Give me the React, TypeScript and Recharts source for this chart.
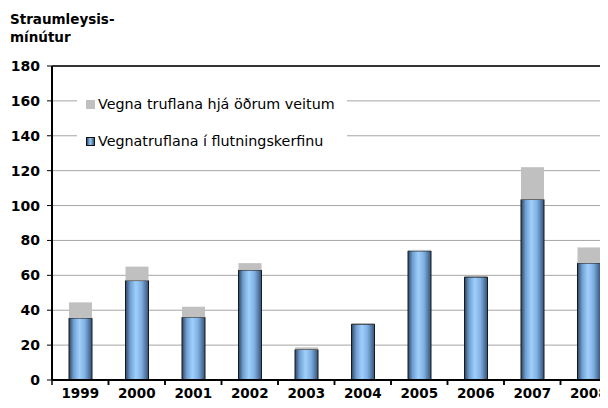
import React from 'react';
import { BarChart, Bar, XAxis, YAxis, CartesianGrid, ReferenceLine } from 'recharts';

const years = ['1999', '2000', '2001', '2002', '2003', '2004', '2005', '2006', '2007', '2008'];
const networkMinutes = [35.5, 57, 36, 63, 17.5, 32, 74, 59, 103.5, 67];
const otherMinutes = [9, 8, 6, 4, 1.2, 0, 0.6, 0, 18.5, 9];
const yTicks = [0, 20, 40, 60, 80, 100, 120, 140, 160, 180];

const otherLabel = 'Vegna truflana hjá öðrum veitum';
const networkLabel = 'Vegnatruflana í flutningskerfinu';

const data = years.map((year, i) => ({
  year,
  network: networkMinutes[i],
  other: otherMinutes[i],
}));

const font = '"DejaVu Sans", Verdana, sans-serif';

const YearTick = (props: any) => {
  const { x, y, payload } = props;
  const half = payload && payload.offset ? payload.offset : 0;
  return (
    <g>
      <line x1={x - half} x2={x - half} y1={y - 8} y2={y - 3} stroke="#000" strokeWidth={1.5} />
      <line x1={x + half} x2={x + half} y1={y - 8} y2={y - 3} stroke="#000" strokeWidth={1.5} />
      <text x={x} y={y + 10} textAnchor="middle" fontFamily={font} fontWeight="bold" fontSize={13.5} fill="#000">
        {payload.value}
      </text>
    </g>
  );
};

// legend sits on top of the grid, white box hides the lines behind it
const LegendBox = () => (
  <div style={{ position: 'absolute', left: 69, top: 80, background: '#fff', width: 270, height: 70, fontFamily: font, fontSize: 14.3, color: '#000', zIndex: 2 }}>
    <div style={{ display: 'flex', alignItems: 'center', paddingLeft: 9, paddingTop: 8 }}>
      <span style={{ width: 9, height: 9, background: '#c0c0c0', marginRight: 3 }} />
      {otherLabel}
    </div>
    <div style={{ display: 'flex', alignItems: 'center', paddingLeft: 9, paddingTop: 21 }}>
      <span style={{ width: 7, height: 7, background: 'linear-gradient(90deg,#2e4a6b,#9ccdfa 45%,#3a5a7e)', border: '1px solid #111', marginRight: 3 }} />
      {networkLabel}
    </div>
  </div>
);

export default function App() {
  return (
    <div style={{ position: 'relative', width: 600, height: 400, overflow: 'hidden' }}>
      <div style={{ position: 'absolute', left: 2, top: 2, fontFamily: font, fontWeight: 'bold', fontSize: 13.5, lineHeight: '18px', color: '#000', zIndex: 2 }}>
        Straumleysis-<br />mínútur
      </div>
      <LegendBox />
      <BarChart width={620} height={400} data={data} margin={{ top: 58, right: 11, left: 0, bottom: 0 }} barSize={23}>
        <defs>
          <linearGradient id="blueBar" x1="0" y1="0" x2="1" y2="0">
            <stop offset="0" stopColor="#2b4563" />
            <stop offset="0.2" stopColor="#6f9fd0" />
            <stop offset="0.45" stopColor="#9fd0fc" />
            <stop offset="0.7" stopColor="#7fafe0" />
            <stop offset="1" stopColor="#34527a" />
          </linearGradient>
        </defs>
        <CartesianGrid vertical={false} stroke="#a6a6a6" strokeWidth={1} />
        <XAxis
          dataKey="year"
          height={28}
          tickLine={false}
          axisLine={{ stroke: '#000', strokeWidth: 2 }}
          tick={<YearTick />}
          tickSize={0}
          tickMargin={8}
          interval={0}
        />
        <YAxis
          width={44}
          domain={[0, 180]}
          ticks={yTicks}
          interval={0}
          tickSize={5}
          tickMargin={7}
          tickLine={{ stroke: '#000' }}
          axisLine={{ stroke: '#000', strokeWidth: 2 }}
          tick={{ fontFamily: font, fontWeight: 'bold', fontSize: 14, fill: '#000' }}
        />
        <ReferenceLine y={180} stroke="#000" strokeWidth={1.5} />
        <Bar dataKey="network" stackId="a" fill="url(#blueBar)" stroke="#1a1a1a" strokeWidth={1} isAnimationActive={false} />
        <Bar dataKey="other" stackId="a" fill="#c0c0c0" isAnimationActive={false} />
      </BarChart>
    </div>
  );
}
